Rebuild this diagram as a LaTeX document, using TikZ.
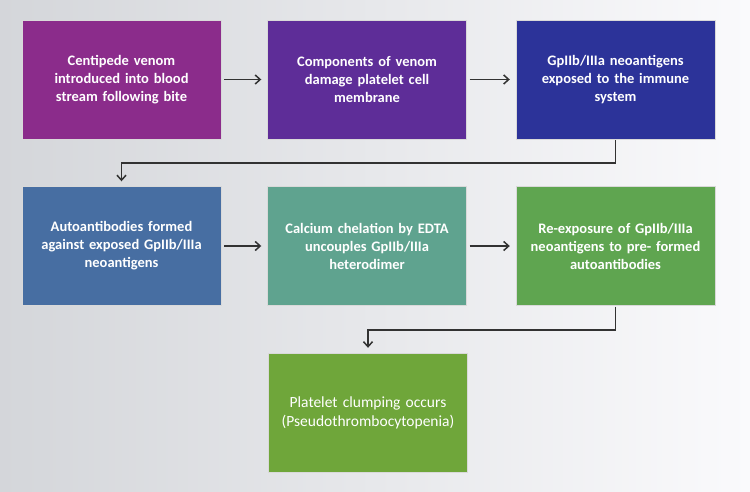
\documentclass[tikz,border=0pt]{standalone}
\usepackage{fontspec}
\setmainfont{Carlito}
\usetikzlibrary{arrows.meta}
\definecolor{bgL}{RGB}{212,214,218}
\definecolor{bgR}{RGB}{250,250,252}
\definecolor{cA}{RGB}{139,44,139}
\definecolor{cB}{RGB}{94,45,152}
\definecolor{cC}{RGB}{44,51,153}
\definecolor{cD}{RGB}{71,110,162}
\definecolor{cE}{RGB}{95,163,143}
\definecolor{cF}{RGB}{95,165,80}
\definecolor{cG}{RGB}{111,166,58}
\definecolor{arr}{RGB}{50,50,50}
\tikzset{
  box/.style={minimum width=199pt, minimum height=119pt, text width=195pt, align=center,
    text=white, font=\bfseries\fontsize{14.5}{18}\selectfont, inner sep=0pt, draw=white!70!gray, line width=0.4pt},
  conn/.style={draw=arr, line width=1.5pt, -{Straight Barb[length=5pt,width=9pt]}}
}
\begin{document}
\begin{tikzpicture}[x=1pt,y=1pt]
\shade[left color=bgL, right color=bgR] (0,0) rectangle (750,-492);
\useasboundingbox (0,0) rectangle (750,-492);
\node[box, fill=cA] (a) at (121.5,-79.5) {Centipede venom\\introduced into blood\\stream following bite};
\node[box, fill=cB] (b) at (367,-79.5) {Components of venom\\damage platelet cell\\membrane};
\node[box, fill=cC] (c) at (615.5,-79.5) {GpIIb/IIIa neoantigens\\exposed to the immune\\system};
\node[box, fill=cD] (d) at (121.5,-246) {Autoantibodies formed\\against exposed GpIIb/IIIa\\neoantigens};
\node[box, fill=cE] (e) at (367,-246) {Calcium chelation by EDTA\\uncouples GpIIb/IIIa\\heterodimer};
\node[box, fill=cF] (f) at (615.5,-246) {Re-exposure of GpIIb/IIIa\\neoantigens to pre- formed\\autoantibodies};
\node[box, fill=cG, font=\fontsize{15.5}{19}\selectfont] (g) at (368,-412.5) {Platelet clumping occurs\\(Pseudothrombocytopenia)};
\draw[conn] ([xshift=3pt]a.east) -- ([xshift=-6pt]b.west);
\draw[conn] ([xshift=3pt]b.east) -- ([xshift=-6pt]c.west);
\draw[conn] ([yshift=-1pt]c.south) |- (121.5,-163) -- ([yshift=5pt]d.north);
\draw[conn] ([xshift=3pt]d.east) -- ([xshift=-6pt]e.west);
\draw[conn] ([xshift=3pt]e.east) -- ([xshift=-6pt]f.west);
\draw[conn] ([yshift=-1pt]f.south) |- (368,-330) -- ([yshift=5pt]g.north);
\end{tikzpicture}
\end{document}
